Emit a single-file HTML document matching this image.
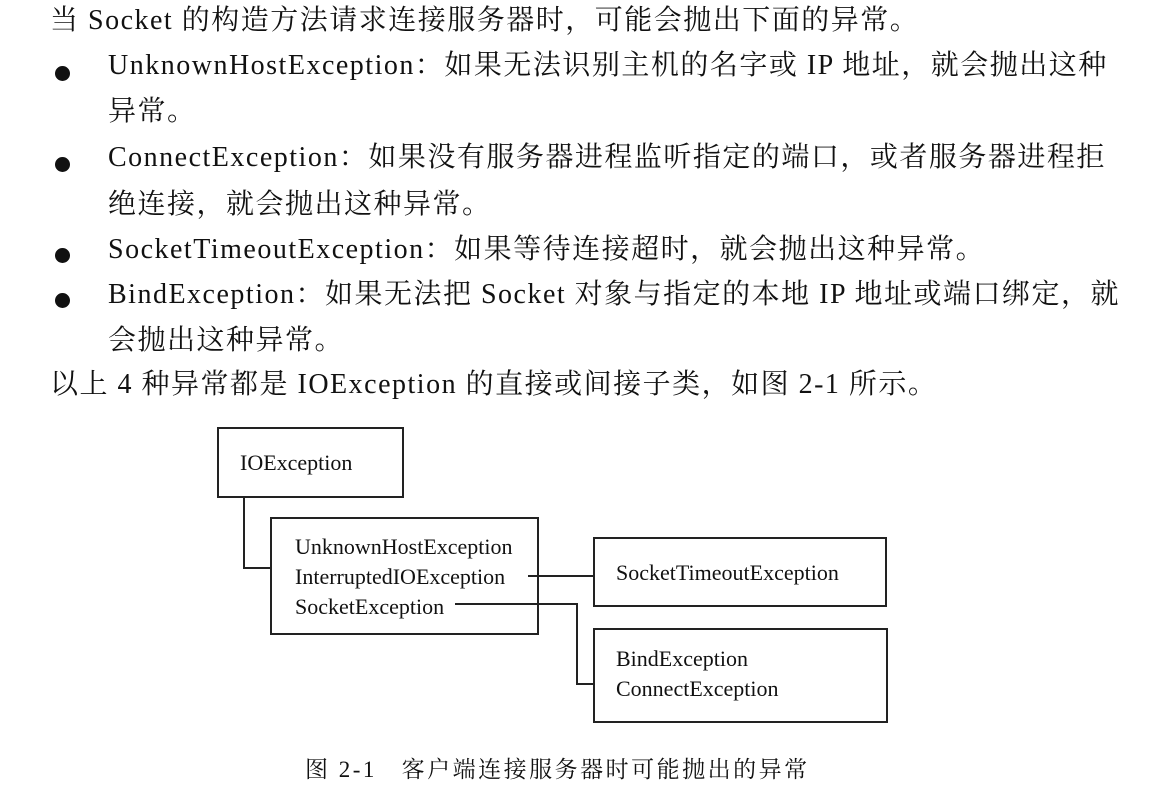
<!DOCTYPE html>
<html><head><meta charset="utf-8"><style>
body{margin:0;width:1149px;height:794px;background:#fff;position:relative;overflow:hidden;font-family:"Liberation Serif","Noto Serif CJK SC",serif;color:#111}
.t{position:absolute;font-size:28px;letter-spacing:1.5px;white-space:nowrap;line-height:32px}
.b{position:absolute;width:15px;height:15px;border-radius:50%;background:#111;left:55px}
.box{position:absolute;border:2px solid #222;box-sizing:border-box}
.d{position:absolute;font-size:22px;white-space:nowrap;line-height:30px}
.l{position:absolute;background:#222}
</style></head><body>
<div class="t" style="left:50px;top:5px">当 Socket 的构造方法请求连接服务器时，可能会抛出下面的异常。</div>
<div class="b" style="top:66px"></div>
<div class="t" style="left:108px;top:50px">UnknownHostException：如果无法识别主机的名字或 IP 地址，就会抛出这种</div>
<div class="t" style="left:108px;top:96px">异常。</div>
<div class="b" style="top:157px"></div>
<div class="t" style="left:108px;top:142px">ConnectException：如果没有服务器进程监听指定的端口，或者服务器进程拒</div>
<div class="t" style="left:108px;top:189px">绝连接，就会抛出这种异常。</div>
<div class="b" style="top:248px"></div>
<div class="t" style="left:108px;top:234px">SocketTimeoutException：如果等待连接超时，就会抛出这种异常。</div>
<div class="b" style="top:293px"></div>
<div class="t" style="left:108px;top:279px">BindException：如果无法把 Socket 对象与指定的本地 IP 地址或端口绑定，就</div>
<div class="t" style="left:108px;top:325px">会抛出这种异常。</div>
<div class="t" style="left:50px;top:369px">以上 4 种异常都是 IOException 的直接或间接子类，如图 2-1 所示。</div>

<div class="box" style="left:217px;top:427px;width:187px;height:71px"></div>
<div class="d" style="left:240px;top:448px">IOException</div>
<div class="box" style="left:270px;top:517px;width:269px;height:118px"></div>
<div class="d" style="left:295px;top:532px">UnknownHostException</div>
<div class="d" style="left:295px;top:562px">InterruptedIOException</div>
<div class="d" style="left:295px;top:592px">SocketException</div>
<div class="box" style="left:593px;top:537px;width:294px;height:70px"></div>
<div class="d" style="left:616px;top:558px">SocketTimeoutException</div>
<div class="box" style="left:593px;top:628px;width:295px;height:95px"></div>
<div class="d" style="left:616px;top:644px">BindException</div>
<div class="d" style="left:616px;top:674px">ConnectException</div>

<div class="l" style="left:243px;top:498px;width:2px;height:71px"></div>
<div class="l" style="left:243px;top:567px;width:27px;height:2px"></div>
<div class="l" style="left:528px;top:575px;width:65px;height:2px"></div>
<div class="l" style="left:455px;top:603px;width:123px;height:2px"></div>
<div class="l" style="left:576px;top:603px;width:2px;height:82px"></div>
<div class="l" style="left:576px;top:683px;width:17px;height:2px"></div>

<div class="d" style="left:305px;top:755px;font-size:23px;letter-spacing:2.5px">图 2-1&nbsp;&nbsp;&nbsp;客户端连接服务器时可能抛出的异常</div>
</body></html>
